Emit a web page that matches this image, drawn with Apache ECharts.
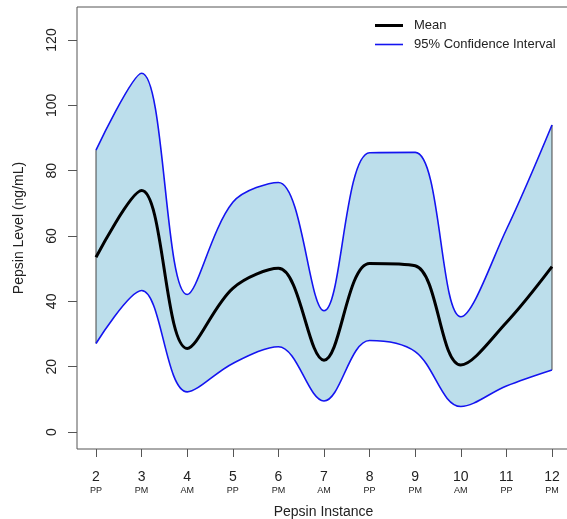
<!DOCTYPE html>
<html>
<head>
<meta charset="utf-8">
<script src="https://cdn.jsdelivr.net/npm/echarts@6/dist/echarts.min.js"></script>
<style>
html,body{margin:0;padding:0;background:#fff;}
#chart{width:567px;height:519px;}
</style>
</head>
<body>
<div id="chart"></div>
<script>
const instances = [2, 3, 4, 5, 6, 7, 8, 9, 10, 11, 12];
const sessions = ['PP', 'PM', 'AM', 'PP', 'PM', 'AM', 'PP', 'PM', 'AM', 'PP', 'PM'];
const meanValues = [53.5, 73.9, 25.6, 44.0, 50.1, 22.0, 51.6, 50.9, 20.5, 33.5, 50.6];
const upperValues = [86.3, 109.8, 42.1, 70.3, 76.4, 37.1, 85.5, 85.6, 35.3, 62.0, 94.0];
const lowerValues = [27.1, 43.3, 12.3, 21.0, 26.1, 9.5, 28.0, 24.6, 7.8, 14.1, 19.0];
const yTicks = [0, 20, 40, 60, 80, 100, 120];

// rows stored as [value, instance] so that stacking acts on the value (y) dimension
const rows = (vals) => instances.map((x, i) => [vals[i], x]);
const bandDiff = instances.map((x, i) => [upperValues[i] - lowerValues[i], x]);
const enc = {x: 1, y: 0};
const sessionOf = {};
instances.forEach((x, i) => { sessionOf[x] = sessions[i]; });

const chart = echarts.init(document.getElementById('chart'), null, {renderer: 'canvas'});
const SM = 0.35;
const blue = '#1414f0';
const band = '#bcdeeb';
const txt = '#222';
chart.setOption({
  animation: false,
  textStyle: {fontFamily: 'Liberation Sans, Arial, sans-serif'},
  grid: {left: 77, top: 7, right: -3, bottom: 70, show: true, borderColor: '#555', borderWidth: 1,
         containLabel: false, outerBoundsMode: 'none'},
  legend: [
    {
      left: 375, top: 19, itemWidth: 28, itemHeight: 3, icon: 'rect', padding: 0,
      textStyle: {fontSize: 13, color: txt, padding: [0, 0, 0, 6]},
      data: ['Mean']
    },
    {
      left: 375, top: 38, itemWidth: 28, itemHeight: 1.6, icon: 'rect', padding: 0,
      textStyle: {fontSize: 13, color: txt, padding: [0, 0, 0, 6]},
      data: ['95% Confidence Interval']
    }
  ],
  xAxis: {
    type: 'value', min: 1.583, max: 12.395,
    splitLine: {show: false}, axisLine: {show: false, onZero: false},
    axisTick: {show: true, length: 8, customValues: instances, lineStyle: {color: '#555'}},
    axisLabel: {
      customValues: instances, margin: 21,
      formatter: (v) => '{a|' + v + '}\n{b|' + sessionOf[v] + '}',
      rich: {
        a: {fontSize: 14, lineHeight: 15, color: txt, fontFamily: 'Liberation Sans'},
        b: {fontSize: 9, lineHeight: 12, color: txt, fontFamily: 'Liberation Sans'}
      }
    },
    name: 'Pepsin Instance', nameLocation: 'middle', nameGap: 56,
    nameTextStyle: {fontSize: 14, color: txt}
  },
  yAxis: {
    type: 'value', min: -5.2, max: 130.1,
    splitLine: {show: false}, axisLine: {show: false, onZero: false},
    axisTick: {show: true, length: 9, customValues: yTicks, lineStyle: {color: '#555'}},
    axisLabel: {customValues: yTicks, rotate: 90, fontSize: 14, color: txt, margin: 18},
    name: 'Pepsin Level (ng/mL)', nameLocation: 'middle', nameGap: 51,
    nameTextStyle: {fontSize: 14, color: txt}
  },
  series: [
    {
      name: '95% Confidence Interval', type: 'line', data: rows(lowerValues), encode: enc,
      stack: 'ci', smooth: SM, symbol: 'none', z: 3, color: blue,
      lineStyle: {color: blue, width: 1.6}
    },
    {
      name: 'band', type: 'line', data: bandDiff, encode: enc,
      stack: 'ci', smooth: SM, symbol: 'none', z: 1, silent: true,
      lineStyle: {width: 0, opacity: 0},
      areaStyle: {color: band, opacity: 1}
    },
    {
      name: '95% Confidence Interval', type: 'line', data: rows(upperValues), encode: enc,
      smooth: SM, symbol: 'none', z: 3, color: blue,
      lineStyle: {color: blue, width: 1.6}
    },
    {
      name: 'edgeLeft', type: 'line', encode: enc,
      data: [[lowerValues[0], instances[0]], [upperValues[0], instances[0]]],
      symbol: 'none', z: 2, lineStyle: {color: '#444', width: 1}
    },
    {
      name: 'edgeRight', type: 'line', encode: enc,
      data: [[lowerValues[lowerValues.length - 1], instances[instances.length - 1]], [upperValues[upperValues.length - 1], instances[instances.length - 1]]],
      symbol: 'none', z: 2, lineStyle: {color: '#444', width: 1}
    },
    {
      name: 'Mean', type: 'line', data: rows(meanValues), encode: enc,
      smooth: SM, symbol: 'none', z: 4, color: '#000',
      lineStyle: {color: '#000', width: 3}
    }
  ]
});
</script>
</body>
</html>
